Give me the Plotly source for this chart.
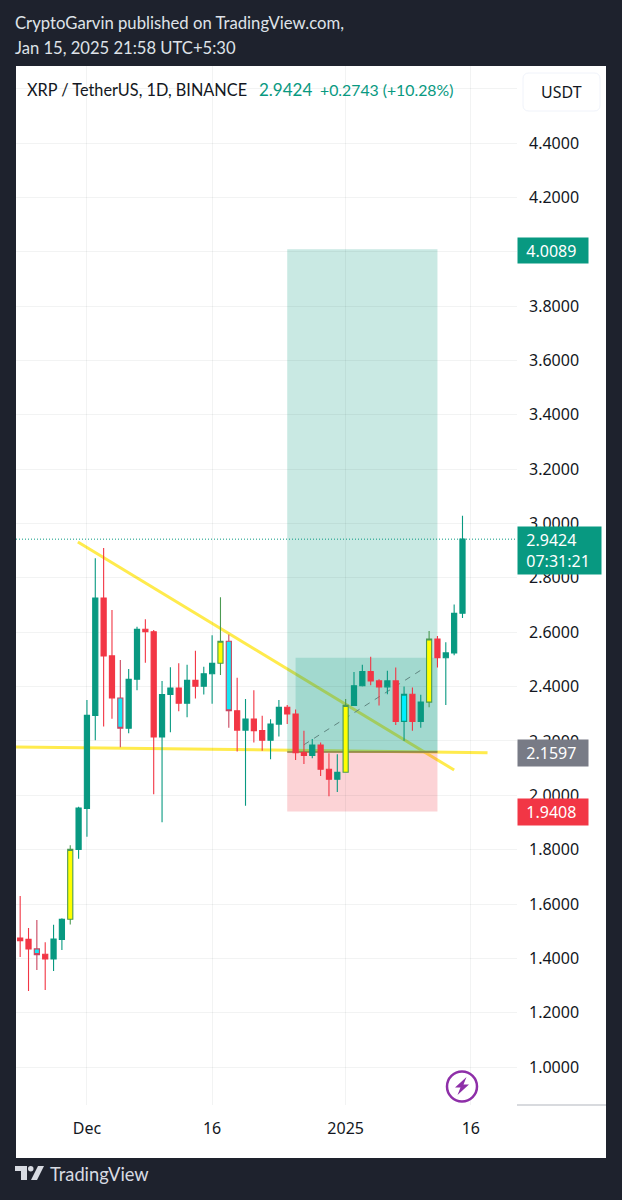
import pandas as pd
import plotly.graph_objects as go

W, H = 622, 1200
DARK = "#1e222d"
GREEN = "#089981"
RED = "#f23645"
GRID = "rgba(42,46,57,0.06)"

dates = pd.date_range("2024-11-23", "2025-01-15", freq="D").strftime("%Y-%m-%d").tolist()
opens = [1.475, 1.470, 1.435, 1.415, 1.398, 1.470, 1.544, 1.801,
         1.952, 2.294, 2.726, 2.513, 2.358, 2.247, 2.427, 2.611, 2.602, 2.215, 2.371, 2.395, 2.339, 2.423, 2.401, 2.447,
         2.486, 2.567, 2.311, 2.240, 2.281, 2.238, 2.203, 2.262, 2.324, 2.299, 2.157, 2.147, 2.185, 2.096, 2.059,
         2.085, 2.331, 2.403, 2.455, 2.421, 2.399, 2.421, 2.272, 2.372, 2.272, 2.343, 2.575, 2.506, 2.524, 2.670]
closes = [1.465, 1.435, 1.414, 1.398, 1.471, 1.544, 1.801, 1.953,
          2.294, 2.726, 2.513, 2.358, 2.247, 2.427, 2.611, 2.602, 2.215, 2.371, 2.395, 2.339, 2.423, 2.401, 2.447, 2.486,
          2.567, 2.311, 2.240, 2.281, 2.238, 2.203, 2.262, 2.324, 2.299, 2.157, 2.147, 2.185, 2.096, 2.059, 2.085,
          2.331, 2.403, 2.455, 2.421, 2.399, 2.421, 2.272, 2.372, 2.272, 2.343, 2.575, 2.506, 2.524, 2.670, 2.943]
highs = [1.630, 1.512, 1.541, 1.459, 1.524, 1.548, 1.816, 1.958,
         2.351, 2.872, 2.910, 2.682, 2.498, 2.465, 2.620, 2.648, 2.608, 2.421, 2.471, 2.486, 2.480, 2.532, 2.473, 2.589,
         2.729, 2.592, 2.433, 2.354, 2.387, 2.293, 2.280, 2.351, 2.332, 2.316, 2.238, 2.207, 2.194, 2.155, 2.151,
         2.354, 2.454, 2.480, 2.510, 2.427, 2.458, 2.470, 2.400, 2.397, 2.370, 2.605, 2.586, 2.563, 2.702, 3.029]
lows = [1.405, 1.280, 1.357, 1.284, 1.354, 1.431, 1.525, 1.767,
        1.848, 2.203, 2.253, 2.282, 2.177, 2.228, 2.387, 2.488, 2.004, 1.901, 2.232, 2.309, 2.287, 2.356, 2.371, 2.337,
        2.443, 2.249, 2.161, 1.962, 2.194, 2.164, 2.133, 2.216, 2.262, 2.130, 2.115, 2.136, 2.071, 1.997, 2.012,
        2.085, 2.331, 2.400, 2.405, 2.330, 2.372, 2.259, 2.201, 2.238, 2.249, 2.324, 2.470, 2.332, 2.515, 2.652]
kinds = list("rrCrggyg"
             "ggrrCggrrggrgrgg"
             "yCrgrrggrrrgrrg"
             "yggrrgrcrgyrggg")

tick_prices = [1.0, 1.2, 1.4, 1.6, 1.8, 2.0, 2.2, 2.4, 2.6, 2.8, 3.0, 3.2, 3.4, 3.6, 3.8, 4.0, 4.2, 4.4, 4.6]
# 4.0000 sits wholly behind the target-price chip and 4.6000 behind the legend row
tick_texts = ["" if p in (4.0, 4.6) else f"{p:.4f}" for p in tick_prices]
time_ticks = ["2024-12-01", "2024-12-16", "2025-01-01", "2025-01-16"]
time_labels = ["Dec", "16", "2025", "16"]

last_price = 2.9424
target_price = 4.0089
entry_price = 2.1597
stop_price = 1.9408
hit_price = 2.506
pos_start, pos_inner, pos_end = "2024-12-25", "2024-12-26", "2025-01-12"
trend_x = ["2024-11-29 22:00", "2025-01-14"]
trend_y = [2.932, 2.093]
support_x = ["2024-11-22 12:00", "2025-01-18"]
support_y = [2.178, 2.157]
path_x = ["2024-12-27", "2025-01-10 12:00"]
path_y = [2.186, 2.470]

styles = {
    "g": (GREEN, GREEN),
    "r": (RED, RED),
    "y": ("#4c9a52", "#ffff00"),
    "c": (GREEN, "#00f0ff"),
    "C": ("#c9455f", "#19e6f5"),
}


def px(x):
    return x / W


def py(y):
    return 1 - y / H


fig = go.Figure()
for kind, (edge, fill) in styles.items():
    idx = [i for i, k in enumerate(kinds) if k == kind]
    side = dict(line=dict(color=edge, width=1.1), fillcolor=fill)
    fig.add_trace(go.Candlestick(
        x=[dates[i] for i in idx],
        open=[opens[i] for i in idx],
        high=[highs[i] for i in idx],
        low=[lows[i] for i in idx],
        close=[closes[i] for i in idx],
        increasing=side, decreasing=side, showlegend=False, hoverinfo="skip",
    ))


def rounded(x0, y0, x1, y1, r):
    return (f"M {px(x0 + r)},{py(y0)} L {px(x1 - r)},{py(y0)} Q {px(x1)},{py(y0)} {px(x1)},{py(y0 + r)} "
            f"L {px(x1)},{py(y1 - r)} Q {px(x1)},{py(y1)} {px(x1 - r)},{py(y1)} "
            f"L {px(x0 + r)},{py(y1)} Q {px(x0)},{py(y1)} {px(x0)},{py(y1 - r)} "
            f"L {px(x0)},{py(y0 + r)} Q {px(x0)},{py(y0)} {px(x0 + r)},{py(y0)} Z")


shapes = [
    # white chart panel
    dict(type="rect", xref="paper", yref="paper", x0=px(16), x1=px(606), y0=py(1158), y1=py(66),
         fillcolor="white", line_width=0, layer="below"),
    # trend lines lie under the translucent position tool
    dict(type="line", xref="x", yref="y", x0=trend_x[0], x1=trend_x[1], y0=trend_y[0], y1=trend_y[1],
         line=dict(color="#ffeb4d", width=3), layer="below"),
    dict(type="line", xref="x", yref="y", x0=support_x[0], x1=support_x[1], y0=support_y[0], y1=support_y[1],
         line=dict(color="#ffeb4d", width=3), layer="below"),
    dict(type="rect", xref="x", yref="y", x0=pos_start, x1=pos_end, y0=entry_price, y1=target_price,
         fillcolor="rgba(8,153,129,0.22)", line_width=0, layer="below"),
    dict(type="rect", xref="x", yref="y", x0=pos_start, x1=pos_end, y0=stop_price, y1=entry_price,
         fillcolor="rgba(242,54,69,0.22)", line_width=0, layer="below"),
    dict(type="rect", xref="x", yref="y", x0=pos_inner, x1=pos_end, y0=entry_price, y1=hit_price,
         fillcolor="rgba(8,153,129,0.20)", line_width=0, layer="below"),
    dict(type="line", xref="x", yref="y", x0=pos_start, x1=pos_end, y0=entry_price, y1=entry_price,
         line=dict(color="#8a7f45", width=1.5), layer="below"),
    dict(type="line", xref="x", yref="y", x0=path_x[0], x1=path_x[1], y0=path_y[0], y1=path_y[1],
         line=dict(color="#5f8580", width=1, dash="6px,6px"), layer="below"),
    dict(type="line", xref="paper", yref="y", x0=px(16), x1=px(517), y0=last_price, y1=last_price,
         line=dict(color=GREEN, width=1, dash="1px,2px"), layer="below"),
    # rule above the time scale
    dict(type="line", xref="paper", yref="paper", x0=px(517), x1=px(606), y0=py(1105), y1=py(1105),
         line=dict(color="#b2b5be", width=1.2)),
    # USDT button
    dict(type="path", xref="paper", yref="paper", path=rounded(523, 73, 600, 111, 6),
         fillcolor="white", line=dict(color="#f0f3fa", width=1)),
    # lightning badge
    dict(type="circle", xref="paper", yref="paper", x0=px(447), x1=px(477), y0=py(1101.5), y1=py(1071.5),
         fillcolor="white", line=dict(color="#8e2fa8", width=2.5)),
    dict(type="path", xref="paper", yref="paper", line_width=0, fillcolor="#8e2fa8",
         path=f"M {px(466.5)},{py(1077)} L {px(455)},{py(1087.5)} L {px(460.5)},{py(1087.5)} L {px(457.5)},{py(1095)} "
              f"L {px(469)},{py(1084.5)} L {px(463.5)},{py(1084.5)} Z"),
    # TradingView logo
    dict(type="path", xref="paper", yref="paper", line_width=0, fillcolor="#d8dbe2",
         path=f"M {px(15)},{py(1166)} L {px(27)},{py(1166)} L {px(27)},{py(1180)} L {px(21)},{py(1180)} "
              f"L {px(21)},{py(1171)} L {px(15)},{py(1171)} Z"),
    dict(type="circle", xref="paper", yref="paper", x0=px(28), x1=px(33.5), y0=py(1171.5), y1=py(1166),
         fillcolor="#d8dbe2", line_width=0),
    dict(type="path", xref="paper", yref="paper", line_width=0, fillcolor="#d8dbe2",
         path=f"M {px(38)},{py(1166)} L {px(44)},{py(1166)} L {px(37)},{py(1180)} L {px(31)},{py(1180)} Z"),
]

TEXT_FONT = "Lato"
AXIS_FONT = "Noto Sans"


def note(text, x, y, size, color, family=TEXT_FONT, xanchor="left"):
    return dict(text=text, x=px(x), y=py(y), xref="paper", yref="paper", showarrow=False,
                xanchor=xanchor, yanchor="middle", align="left",
                font=dict(family=family, size=size, color=color))


def chip(lines, x0, x1, y0, y1, color):
    return dict(text=lines, x=px(x0), y=py(y0), xref="paper", yref="paper", showarrow=False,
                xanchor="left", yanchor="top", align="left", width=x1 - x0, height=y1 - y0,
                bgcolor=color, borderpad=0, valign="middle",
                font=dict(family=AXIS_FONT, size=16, color="white"))


annotations = [
    note("CryptoGarvin published on TradingView.com,", 13, 23, 16.7, "#dfe2e8"),
    note("Jan 15, 2025 21:58 UTC+5:30", 13, 48, 16.6, "#dfe2e8"),
    note("XRP / TetherUS, 1D, BINANCE", 25, 90, 16.3, "#131722"),
    note("2.9424", 257, 90, 17, GREEN),
    note("+0.2743 (+10.28%)", 318, 90, 15.8, GREEN),
    note("USDT", 561, 92, 16, "#131722", AXIS_FONT, "center"),
    note("TradingView", 48, 1174, 18.3, "#d8dbe2"),
    chip("  4.0089", 517, 587, 237, 262, GREEN),
    chip("  2.9424<br>  07:31:21", 517, 600, 526, 573, GREEN),
    chip("  2.1597", 517, 587, 739, 765, "#787b86"),
    chip("  1.9408", 517, 587, 798, 824, RED),
]

fig.update_layout(
    width=W, height=H,
    margin=dict(l=0, r=0, t=0, b=0),
    paper_bgcolor=DARK,
    plot_bgcolor="rgba(0,0,0,0)",
    boxmode="overlay", boxgap=0.12,
    showlegend=False,
    shapes=shapes,
    annotations=annotations,
    xaxis=dict(
        type="date", domain=[px(16), px(517)],
        range=["2024-11-22 12:00", "2025-01-21 12:45"],
        tickmode="array", tickvals=time_ticks, ticktext=time_labels,
        ticks="", ticklabelstandoff=12,
        tickfont=dict(family=AXIS_FONT, size=16, color="#131722"),
        showgrid=True, gridcolor=GRID, gridwidth=1,
        zeroline=False, showline=False, rangeslider=dict(visible=False), fixedrange=True,
    ),
    yaxis=dict(
        domain=[py(1105), py(66)], side="right", anchor="x",
        range=[0.8606, 4.6833],
        tickmode="array", tickvals=tick_prices, ticktext=tick_texts,
        ticks="", ticklabelstandoff=11,
        tickfont=dict(family=AXIS_FONT, size=16, color="#131722"),
        showgrid=True, gridcolor=GRID, gridwidth=1,
        zeroline=False, showline=False, fixedrange=True,
    ),
)

fig.write_html("out.html", config=dict(displayModeBar=False),
               post_script="document.body.style.margin='0';document.body.style.background='#1e222d';")
